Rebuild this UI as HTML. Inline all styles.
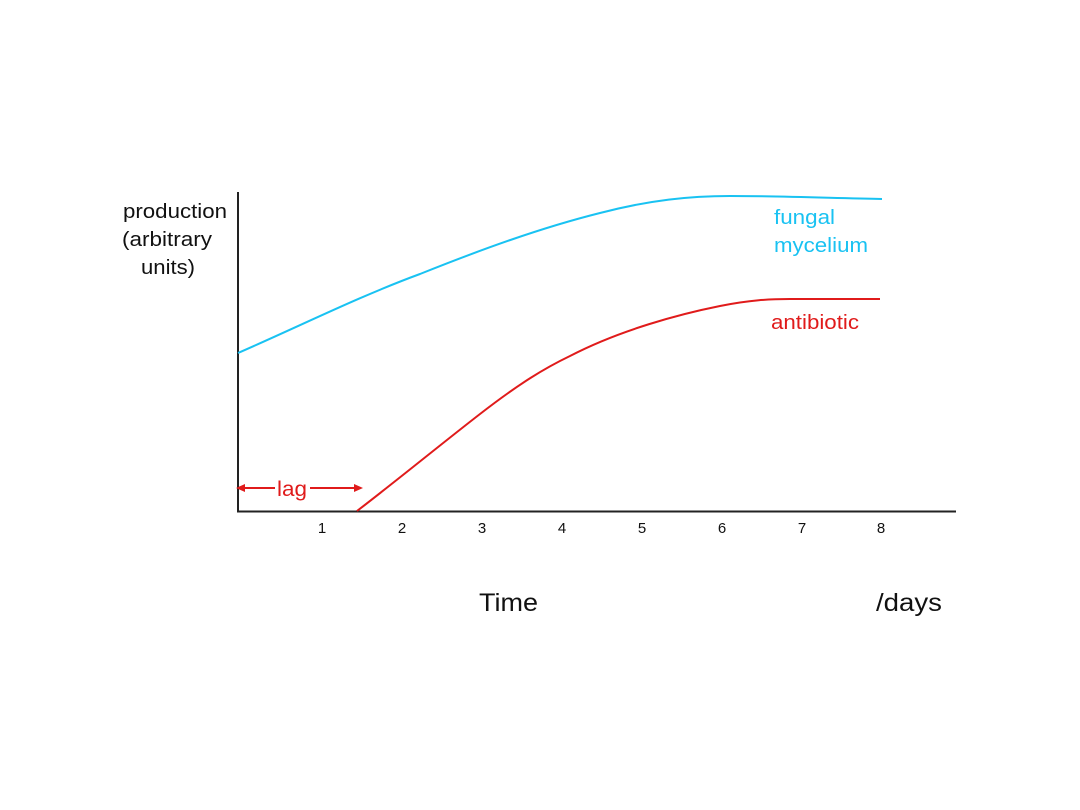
<!DOCTYPE html>
<html><head><meta charset="utf-8"><style>
html,body{margin:0;padding:0;background:#fff}
svg{display:block}
text{font-family:"Liberation Sans",sans-serif}
</style></head><body>
<svg width="1080" height="810" viewBox="0 0 1080 810">
<rect width="1080" height="810" fill="#fff"/>
<line x1="238" y1="192" x2="238" y2="512" stroke="#222" stroke-width="2"/>
<line x1="237" y1="511.5" x2="956" y2="511.5" stroke="#222" stroke-width="2"/>
<g font-size="15" fill="#111" text-anchor="middle">
<text x="322" y="533">1</text><text x="402" y="533">2</text><text x="482" y="533">3</text><text x="562" y="533">4</text>
<text x="642" y="533">5</text><text x="722" y="533">6</text><text x="802" y="533">7</text><text x="881" y="533">8</text>
</g>
<g font-size="20" fill="#111">
<text x="123" y="218" textLength="104" lengthAdjust="spacingAndGlyphs">production</text>
<text x="122" y="246" textLength="90" lengthAdjust="spacingAndGlyphs">(arbitrary</text>
<text x="141" y="274" textLength="54" lengthAdjust="spacingAndGlyphs">units)</text>
</g>
<text x="479" y="611" font-size="25" fill="#111" textLength="59" lengthAdjust="spacingAndGlyphs">Time</text>
<text x="876" y="611" font-size="25" fill="#111" textLength="66" lengthAdjust="spacingAndGlyphs">/days</text>
<path d="M238,353 C300,326 360,296 420,274 C480,250 540,228 600,213 C650,200 690,196 730,196 C780,196 830,198 882,199" fill="none" stroke="#19c2f2" stroke-width="2"/>
<path d="M357,511 C400,478 440,445 480,414 C520,383 545,368 570,356 C620,330 680,314 720,306 C750,300 770,299 790,299 L880,299" fill="none" stroke="#e01b1b" stroke-width="2"/>
<g font-size="20" fill="#19c2f2"><text x="774" y="224" textLength="61" lengthAdjust="spacingAndGlyphs">fungal</text><text x="774" y="252" textLength="94" lengthAdjust="spacingAndGlyphs">mycelium</text></g>
<text x="771" y="329" font-size="20" fill="#e01b1b" textLength="88" lengthAdjust="spacingAndGlyphs">antibiotic</text>
<text x="277" y="496" font-size="21" fill="#e01b1b" textLength="30" lengthAdjust="spacingAndGlyphs">lag</text>
<line x1="241" y1="488" x2="275" y2="488" stroke="#e01b1b" stroke-width="2"/>
<line x1="310" y1="488" x2="358" y2="488" stroke="#e01b1b" stroke-width="2"/>
<path d="M236,488 L245,484 L245,492 Z" fill="#e01b1b"/>
<path d="M363,488 L354,484 L354,492 Z" fill="#e01b1b"/>
</svg>
</body></html>
